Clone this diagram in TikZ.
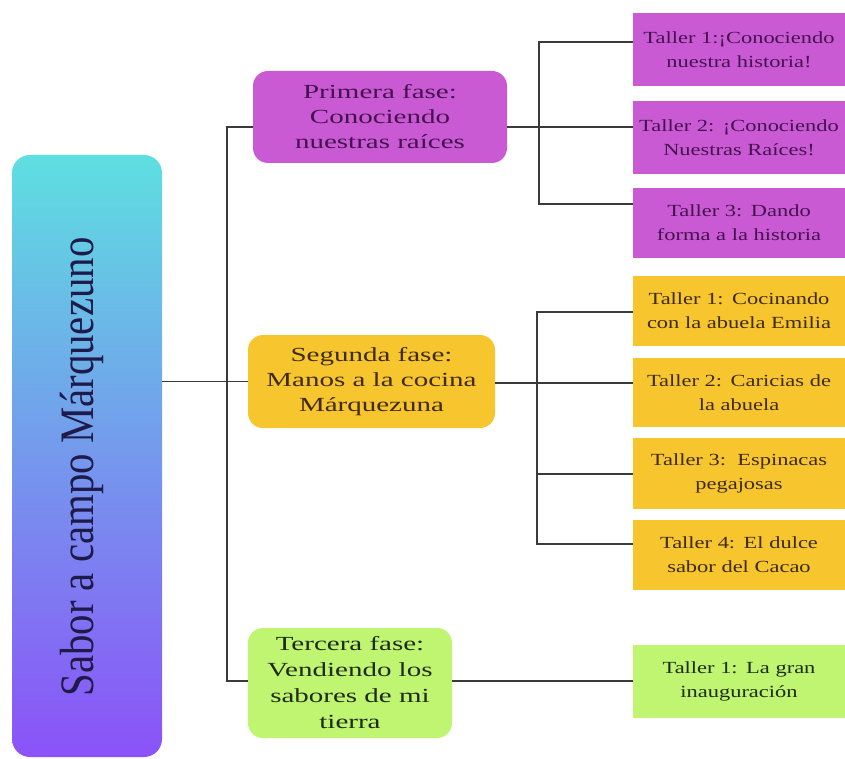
\documentclass[tikz,border=0pt]{standalone}
\usepackage{fontspec}
\setmainfont{Liberation Serif}
\newfontfamily\widefont[FakeStretch=1.45]{Liberation Serif}
\newfontfamily\leaffont[FakeStretch=1.32]{Liberation Serif}
\newfontfamily\tallfont[FakeStretch=0.85]{Liberation Serif}
\definecolor{magfill}{HTML}{C95AD3}
\definecolor{magtext}{HTML}{45124F}
\definecolor{yelfill}{HTML}{F7C52E}
\definecolor{yeltext}{HTML}{3D2B12}
\definecolor{grnfill}{HTML}{BFF570}
\definecolor{grntext}{HTML}{1F2A14}
\definecolor{roottop}{HTML}{5EDFE1}
\definecolor{rootbot}{HTML}{8B52F8}
\definecolor{roottxt}{HTML}{1E1B4B}
\definecolor{linecol}{HTML}{3A3A3A}
\begin{document}
\begin{tikzpicture}[x=1pt,y=-1pt,
  conn/.style={draw=linecol, line width=1.1pt},
  rootbox/.style={rounded corners=18pt, top color=roottop, bottom color=rootbot, minimum width=150pt, minimum height=602pt, inner sep=0pt},
  roottext/.style={rotate=90, text=roottxt, font=\tallfont\fontsize{48}{52}\selectfont, inner sep=0pt},
  phase/.style={rounded corners=15pt, align=center, inner sep=0pt, font=\widefont\fontsize{20}{25}\selectfont},
  leaf/.style={align=center, inner sep=0pt, minimum width=212pt, text width=212pt, font=\leaffont\fontsize{17}{24}\selectfont},
  magphase/.style={phase, fill=magfill, text=magtext},
  yelphase/.style={phase, fill=yelfill, text=yeltext},
  grnphase/.style={phase, fill=grnfill, text=grntext},
  magleaf/.style={leaf, fill=magfill, text=magtext},
  yelleaf/.style={leaf, fill=yelfill, text=yeltext},
  grnleaf/.style={leaf, fill=grnfill, text=grntext}
]
\useasboundingbox (0,0) rectangle (845,759);

% root
\node[rootbox] (root) at (87,456) {};
\node[roottext] (rt) at (82,467) {Sabor a campo Márquezuno};

% phases
\node[magphase, minimum width=254pt, minimum height=92pt] (p1) at (380,117) {Primera fase:\\Conociendo\\nuestras raíces};
\node[yelphase, minimum width=247pt, minimum height=93pt] (p2) at (371.5,381.5) {Segunda fase:\\Manos a la cocina\\Márquezuna};
\node[grnphase, minimum width=204pt, minimum height=110pt, font=\widefont\fontsize{20}{26}\selectfont] (p3) at (350,683) {Tercera fase:\\Vendiendo los\\sabores de mi\\tierra};

% leaves
\node[magleaf, minimum height=73pt] (l11) at (739,49.5) {Taller 1:¡Conociendo\\nuestra historia!};
\node[magleaf, minimum height=73pt] (l12) at (739,137.5) {Taller 2: ¡Conociendo\\Nuestras Raíces!};
\node[magleaf, minimum height=70pt] (l13) at (739,223) {Taller 3: Dando\\forma a la historia};
\node[yelleaf, minimum height=70pt] (l21) at (739,311) {Taller 1: Cocinando\\con la abuela Emilia};
\node[yelleaf, minimum height=69pt] (l22) at (739,392.5) {Taller 2: Caricias de\\la abuela};
\node[yelleaf, minimum height=71pt] (l23) at (739,473.5) {Taller 3:\ \ Espinacas\\pegajosas};
\node[yelleaf, minimum height=70pt] (l24) at (739,555) {Taller 4: El dulce\\sabor del Cacao};
\node[grnleaf, minimum height=73pt] (l31) at (739,681.5) {Taller 1: La gran\\inauguración};

% junction coordinates
\coordinate (ta) at (227,127);
\coordinate (tb) at (227,681);
\coordinate (ba) at (539,42);
\coordinate (bm) at (539,127);
\coordinate (bb) at (539,204);
\coordinate (ca) at (537,312);
\coordinate (cm) at (537,383);
\coordinate (cc) at (537,474);
\coordinate (cd) at (537,544);
\coordinate (dm) at (540,681);

% connectors
\draw[conn] (root.east |- p2.west) -- (p2.west);
\draw[conn] (ta -| p1.west) -- (ta) -- (tb) -- (tb -| p3.west);
\draw[conn] (bm -| p1.east) -- (bm -| l12.west);
\draw[conn] (ba -| l11.west) -- (ba) -- (bb) -- (bb -| l13.west);
\draw[conn] (cm -| p2.east) -- (cm -| l22.west);
\draw[conn] (ca -| l21.west) -- (ca) -- (cd) -- (cd -| l24.west);
\draw[conn] (cc) -- (cc -| l23.west);
\draw[conn] (dm -| p3.east) -- (dm -| l31.west);
\end{tikzpicture}
\end{document}
